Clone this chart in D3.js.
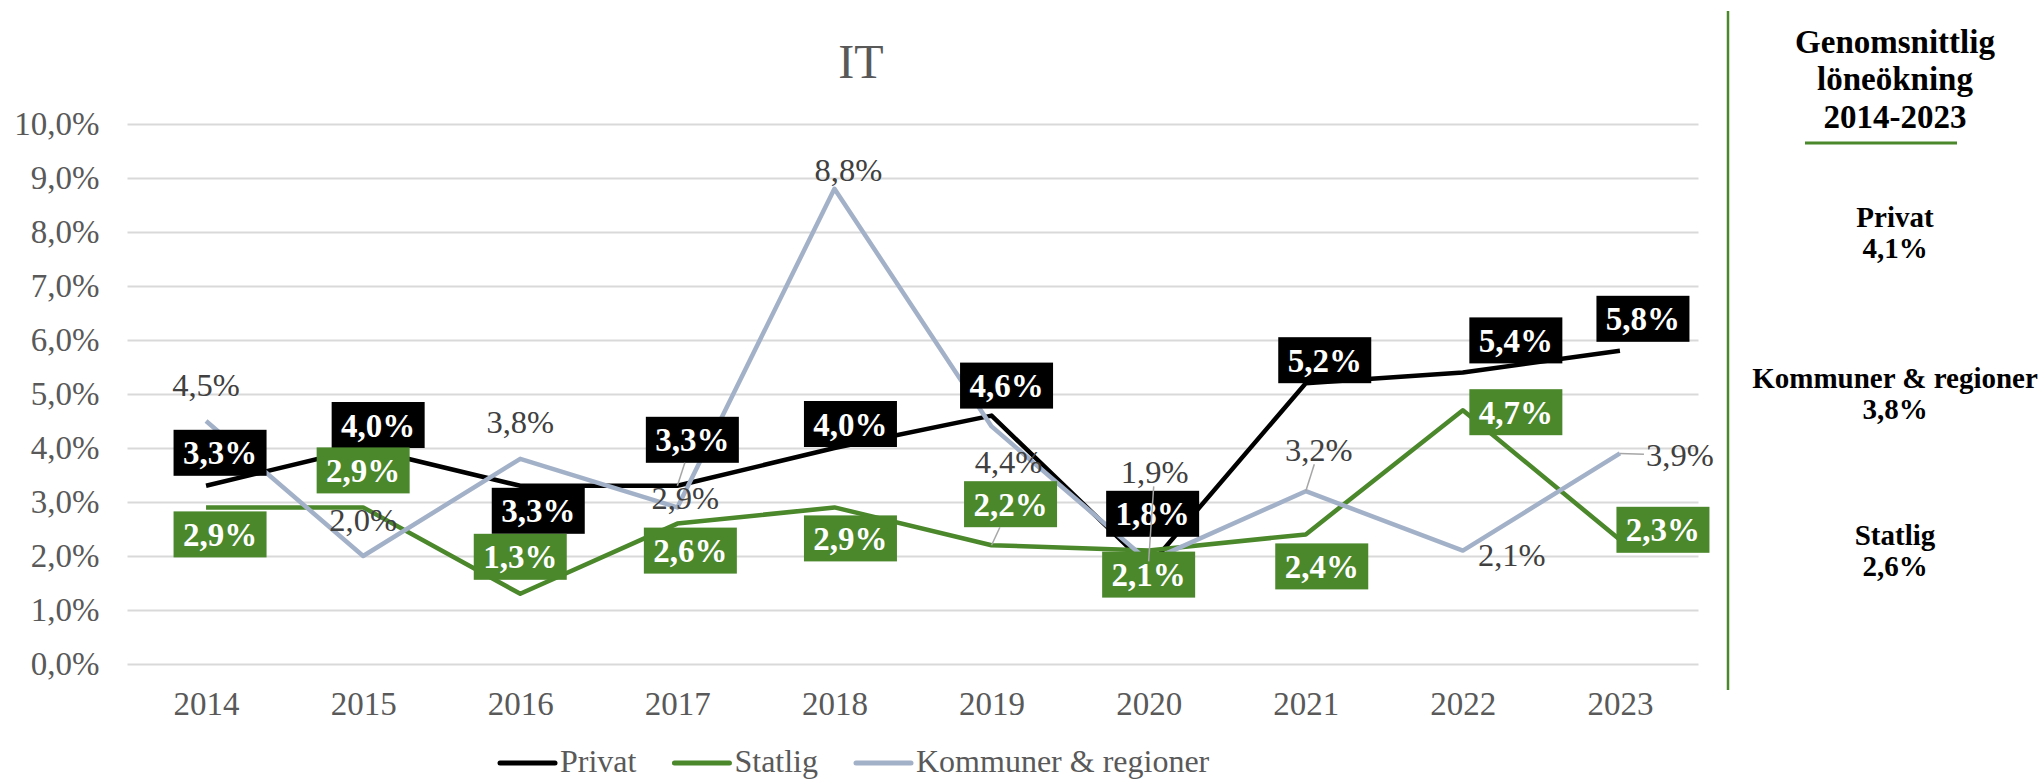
<!DOCTYPE html>
<html>
<head>
<meta charset="utf-8">
<script src="https://cdn.jsdelivr.net/npm/d3@7"></script>
<style>
  html, body { margin: 0; padding: 0; background: #fff; }
  svg { display: block; font-family: "Liberation Serif", "DejaVu Serif", serif; }
</style>
</head>
<body>
<svg id="chart" width="2038" height="781"></svg>
<script>
// data
const years = ["2014", "2015", "2016", "2017", "2018", "2019", "2020", "2021", "2022", "2023"];
const privat = [3.3, 4.0, 3.3, 3.3, 4.0, 4.6, 1.8, 5.2, 5.4, 5.8];
const statlig = [2.9, 2.9, 1.3, 2.6, 2.9, 2.2, 2.1, 2.4, 4.7, 2.3];
const kommuner = [4.5, 2.0, 3.8, 2.9, 8.8, 4.4, 1.9, 3.2, 2.1, 3.9];
const yTicks = [0, 1, 2, 3, 4, 5, 6, 7, 8, 9, 10];
const seriesNames = ["Privat", "Statlig", "Kommuner & regioner"];
const avgNames = ["Privat", "Kommuner & regioner", "Statlig"];
const avgValues = ["4,1%", "3,8%", "2,6%"];

// label placement (px offsets from the point), like the hand-moved Excel labels
const privatOff = [[14,-33],[15,-23],[18,25],[15,-46],[16,-24],[15,-30],[4,-53],[19,-23],[53,-32],[23,-32]];
const statligOff = [[14,27],[0,-37],[0,-37],[13,27],[16,31],[19,-41],[0,24],[16,32],[53,2],[43,-10]];
const kommunerOff = [[0,-36],[0,-36],[0,-37],[8,-9],[14,-19],[17,36],[6,-89],[13,-41],[49,4],[60,2]];
const privatLeader = [3];
const statligLeader = [5];
const kommunerLeader = [6, 7, 9];

const green = "#4b872b", slate = "#a3b1c8";

const svg = d3.select("#chart");
const plotLeft = 127.5, plotRight = 1698.5, plotTop = 124, plotBottom = 664;

const sv = d3.formatLocale({decimal: ",", thousands: " ", grouping: [3], currency: ["", " kr"]});
const pct = v => sv.format(".1f")(v) + "%";

const x = d3.scalePoint().domain(years).range([plotLeft, plotRight]).padding(0.5);
const y = d3.scaleLinear().domain([0, 10]).range([plotBottom, plotTop]);

// gridlines
svg.append("g")
  .attr("transform", `translate(${plotLeft},0)`)
  .call(d3.axisLeft(y).tickValues(yTicks).tickSize(-(plotRight - plotLeft)).tickFormat(""))
  .call(g => g.select(".domain").remove())
  .call(g => g.selectAll("line").attr("stroke", "#d9d9d9").attr("stroke-width", 2));

// y axis labels
svg.append("g")
  .attr("transform", `translate(${plotLeft},0)`)
  .call(d3.axisLeft(y).tickValues(yTicks).tickSize(0).tickPadding(28).tickFormat(pct))
  .call(g => g.select(".domain").remove())
  .call(g => g.selectAll("text").attr("fill", "#595959").style("font-size", "33px").style("font-family", "Liberation Serif"));

// x axis labels
svg.append("g")
  .attr("transform", `translate(0,${plotBottom})`)
  .call(d3.axisBottom(x).tickSize(0).tickPadding(28))
  .call(g => g.select(".domain").remove())
  .call(g => g.selectAll("text").attr("fill", "#595959").style("font-size", "33px").style("font-family", "Liberation Serif"));

// title
svg.append("text").attr("x", 861).attr("y", 78).attr("text-anchor", "middle")
  .attr("fill", "#595959").style("font-size", "48px").text("IT");

const line = d3.line().x((d, i) => x(years[i])).y(d => y(d));

const series = [
  {vals: privat, color: "#000", off: privatOff, leader: privatLeader, boxed: true},
  {vals: statlig, color: green, off: statligOff, leader: statligLeader, boxed: true},
  {vals: kommuner, color: slate, off: kommunerOff, leader: kommunerLeader, boxed: false}
];

series.forEach(s => {
  svg.append("path").datum(s.vals).attr("d", line)
    .attr("fill", "none").attr("stroke", s.color).attr("stroke-width", 4.5)
    .attr("stroke-linejoin", "round");
});

// data labels
const leaders = [];
series.forEach(s => {
  const g = svg.append("g");
  s.vals.forEach((v, i) => {
    const px = x(years[i]), py = y(v);
    const cx = px + s.off[i][0], cy = py + s.off[i][1];
    const hw = s.boxed ? 47 : 36, hh = s.boxed ? 23 : 14;
    if (s.boxed) {
      g.append("rect").attr("x", cx - 46.5).attr("y", cy - 23).attr("width", 93).attr("height", 46)
        .attr("fill", s.color);
      g.append("text").attr("x", cx).attr("y", cy + 11.5).attr("text-anchor", "middle")
        .attr("fill", "#fff").style("font-size", "33px").style("font-weight", "bold").text(pct(v));
    } else {
      g.append("text").attr("x", cx).attr("y", cy + 11).attr("text-anchor", "middle")
        .attr("fill", "#404040").style("font-size", "32.5px").text(pct(v));
    }
    if (s.leader.includes(i)) {
      const vx = px - cx, vy = py - cy;
      const k = 1 / Math.max(Math.abs(vx) / hw, Math.abs(vy) / hh);
      leaders.push([cx + vx * k, cy + vy * k, px, py]);
    }
  });
});

svg.append("g").selectAll("line").data(leaders).join("line")
  .attr("x1", d => d[0]).attr("y1", d => d[1]).attr("x2", d => d[2]).attr("y2", d => d[3])
  .attr("stroke", "#a6a6a6").attr("stroke-width", 1.5);

// legend
const legend = svg.append("g");
let lx = 500;
seriesNames.forEach((name, i) => {
  legend.append("line").attr("x1", lx).attr("x2", lx + 55).attr("y1", 763).attr("y2", 763)
    .attr("stroke", series[i].color).attr("stroke-width", 5).attr("stroke-linecap", "round");
  const t = legend.append("text").attr("x", lx + 60).attr("y", 772)
    .attr("fill", "#595959").style("font-size", "32px").text(name);
  lx += 60 + t.node().getComputedTextLength() + 38;
});

// right panel
svg.append("line").attr("x1", 1728).attr("x2", 1728).attr("y1", 11).attr("y2", 690)
  .attr("stroke", green).attr("stroke-width", 2.5);

const panel = svg.append("g").attr("text-anchor", "middle").attr("fill", "#000")
  .style("font-weight", "bold");
["Genomsnittlig", "löneökning", "2014-2023"].forEach((t, i) => {
  panel.append("text").attr("x", 1895).attr("y", [53, 90, 128][i]).style("font-size", "33px").text(t);
});
svg.append("line").attr("x1", 1805).attr("x2", 1957).attr("y1", 143).attr("y2", 143)
  .attr("stroke", green).attr("stroke-width", 3);

const avgY = [227, 388, 545];
avgNames.forEach((n, i) => {
  panel.append("text").attr("x", 1895).attr("y", avgY[i]).style("font-size", "29px").text(n);
  panel.append("text").attr("x", 1895).attr("y", avgY[i] + 31).style("font-size", "29px").text(avgValues[i]);
});
</script>
</body>
</html>
